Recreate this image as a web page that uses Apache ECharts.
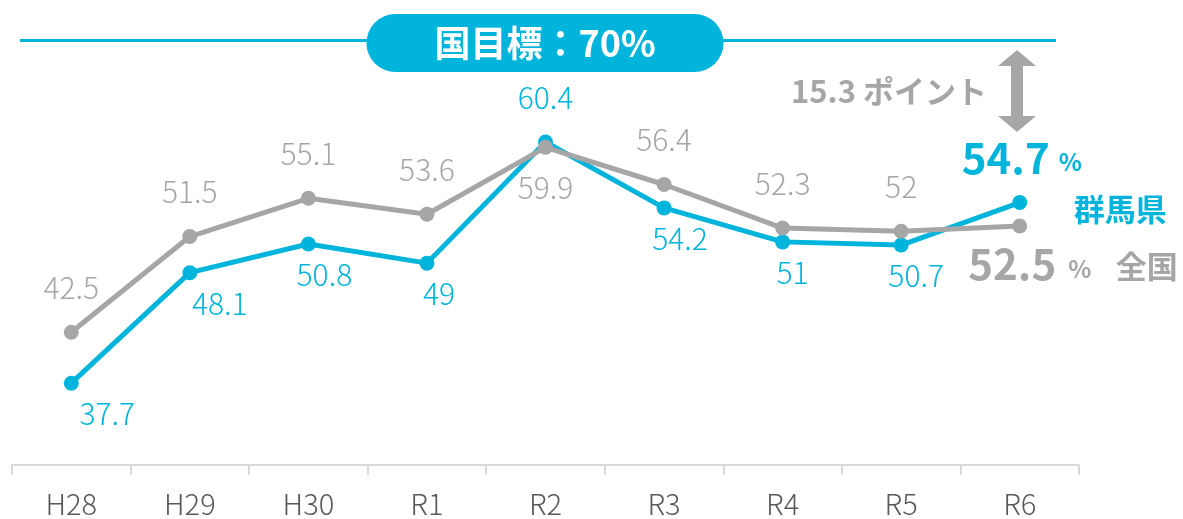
<!DOCTYPE html>
<html lang="ja">
<head>
    <meta charset="UTF-8">
    <title>目標達成率</title>
    <script src="https://cdn.jsdelivr.net/npm/echarts@6/dist/echarts.min.js"></script>
    <style>
        html, body { margin: 0; padding: 0; background: #fff; }
    </style>
</head>
<body>
<div id="main" style="width: 1183px;height:519px;"></div>
<script>
    var years = ['H28', 'H29', 'H30', 'R1', 'R2', 'R3', 'R4', 'R5', 'R6'];
    var gunma = [37.7, 48.1, 50.8, 49, 60.4, 54.2, 51, 50.7, 54.7];   // 群馬県
    var zenkoku = [42.5, 51.5, 55.1, 53.6, 59.9, 56.4, 52.3, 52, 52.5]; // 全国
    var target = 70; // 国目標

    var BLUE = '#00b4dc';
    var GRAY = '#a6a6a6';
    var FONT = '"Noto Sans CJK JP", "Noto Sans", sans-serif';
    var last = years.length - 1;
    // 下側ラベルの横ずらし(見た目調整)
    var shiftX = [36, 30, 16, 12, 0, 16, 10, 15, 0];

    // 上にある方のラベルは上、下にある方は下
    function buildData(vals, other, color, lastLabel) {
        return vals.map(function (v, i) {
            if (i === last) {
                return { value: v, label: lastLabel };
            }
            var above = v >= other[i];
            return {
                value: v,
                label: {
                    show: true,
                    position: above ? 'top' : 'bottom',
                    distance: above ? 22 : (color === BLUE ? 8 : 18),
                    offset: (!above && color === BLUE) ? [shiftX[i], 0] : [0, 0],
                    color: color,
                    fontSize: 30,
                    fontWeight: 300,
                    fontFamily: FONT
                }
            };
        });
    }

    var myChart = echarts.init(document.getElementById('main'));
    var option = {
        animation: false,
        grid: { left: 12, right: 104, top: 40, bottom: 54 },
        xAxis: {
            type: 'category',
            data: years,
            boundaryGap: true,
            axisLine: { lineStyle: { color: '#d9d9d9', width: 2 } },
            axisTick: { show: true, length: 10, lineStyle: { color: '#d9d9d9', width: 2 } },
            axisLabel: { color: '#595959', fontSize: 29, fontWeight: 300, fontFamily: FONT, margin: 24 }
        },
        yAxis: {
            type: 'value',
            min: 30,
            max: 70,
            show: false,
            splitLine: { show: false }
        },
        series: [
            {
                name: '群馬県',
                type: 'line',
                data: buildData(gunma, zenkoku, BLUE, {
                    show: true,
                    position: 'top',
                    distance: 16,
                    offset: [2, 0],
                    formatter: '{a|{c}}{b|%}',
                    rich: {
                        a: { fontSize: 42, fontWeight: 'bold', color: BLUE, fontFamily: FONT },
                        b: { fontSize: 24, fontWeight: 'bold', color: BLUE, fontFamily: FONT, padding: [8, 0, 0, 9] }
                    }
                }),
                symbol: 'circle',
                symbolSize: 15,
                lineStyle: { color: BLUE, width: 5 },
                itemStyle: { color: BLUE },
                endLabel: {
                    show: true,
                    formatter: '群馬県',
                    distance: 54,
                    offset: [0, 7],
                    color: BLUE,
                    fontSize: 31,
                    fontWeight: 'bold',
                    fontFamily: FONT
                },
                markLine: {
                    silent: true,
                    symbol: 'none',
                    lineStyle: { color: BLUE, width: 3, type: 'solid' },
                    label: {
                        show: true,
                        position: 'middle',
                        offset: [7, 37],
                        formatter: '国目標：' + target + '%',
                        color: '#fff',
                        fontSize: 36,
                        fontWeight: 'bold',
                        fontFamily: FONT,
                        backgroundColor: BLUE,
                        borderRadius: 30,
                        padding: [11, 68]
                    },
                    data: [[{ x: 20, yAxis: target }, { x: 1056, yAxis: target }]]
                }
            },
            {
                name: '全国',
                type: 'line',
                data: buildData(zenkoku, gunma, GRAY, {
                    show: true,
                    position: 'bottom',
                    distance: 10,
                    offset: [10, 0],
                    formatter: '{a|{c}}{b|%}',
                    rich: {
                        a: { fontSize: 42, fontWeight: 'bold', color: GRAY, fontFamily: FONT },
                        b: { fontSize: 24, fontWeight: 'bold', color: GRAY, fontFamily: FONT, padding: [8, 0, 0, 12] }
                    }
                }),
                symbol: 'circle',
                symbolSize: 15,
                lineStyle: { color: GRAY, width: 5 },
                itemStyle: { color: GRAY },
                endLabel: {
                    show: true,
                    formatter: '全国',
                    distance: 96,
                    offset: [0, 40],
                    color: GRAY,
                    fontSize: 31,
                    fontWeight: 'bold',
                    fontFamily: FONT
                }
            }
        ],
        graphic: [
            {
                type: 'text',
                right: 196,
                top: 76,
                style: {
                    text: (target - gunma[last]).toFixed(1) + ' ポイント',
                    fill: GRAY,
                    font: 'bold 31px ' + FONT
                }
            },
            {
                type: 'polygon',
                shape: {
                    points: [[1017, 50], [1036, 66], [1023, 66], [1023, 116], [1036, 116],
                             [1017, 132], [998, 116], [1011, 116], [1011, 66], [998, 66]]
                },
                style: { fill: GRAY }
            }
        ]
    };
    myChart.setOption(option);
</script>
</body>
</html>
